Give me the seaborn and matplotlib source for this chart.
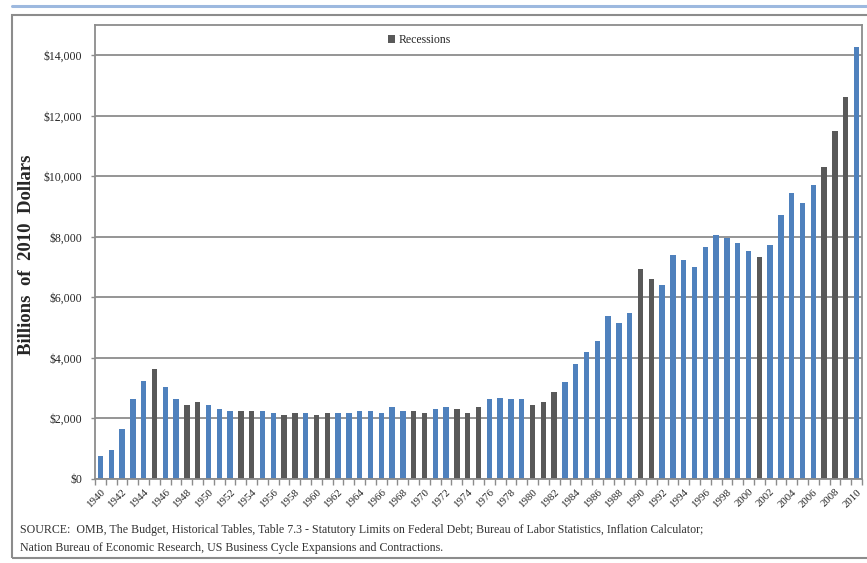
import numpy as np
import pandas as pd
import matplotlib
matplotlib.use("Agg")
import matplotlib.pyplot as plt
import seaborn as sns
from matplotlib.patches import Patch, Rectangle
from matplotlib.lines import Line2D

years = list(range(1940, 2011))
debt_limit = [
    750, 950, 1650, 2650, 3250, 3650, 3050, 2650, 2450, 2530,
    2450, 2320, 2250, 2250, 2250, 2250, 2180, 2120, 2180, 2180,
    2120, 2180, 2180, 2180, 2250, 2250, 2180, 2370, 2250, 2250,
    2180, 2300, 2370, 2300, 2180, 2370, 2630, 2690, 2630, 2630,
    2430, 2560, 2890, 3220, 3800, 4200, 4560, 5370, 5170, 5500,
    6930, 6620, 6420, 7400, 7220, 7010, 7670, 8070, 7960, 7800,
    7540, 7340, 7740, 8730, 9450, 9120, 9720, 10310, 11500, 12620,
    14270,
]
recession_years = [1945, 1948, 1949, 1953, 1954, 1957, 1958, 1960, 1961,
                   1969, 1970, 1973, 1974, 1975, 1980, 1981, 1982,
                   1990, 1991, 2001, 2007, 2008, 2009]
y_ticks = [0, 2000, 4000, 6000, 8000, 10000, 12000, 14000]
y_tick_labels = ["$0", "$2,000", "$4,000", "$6,000", "$8,000", "$10,000", "$12,000", "$14,000"]
legend_label = "Recessions"
y_label = "Billions  of  2010  Dollars"
source_text = ("SOURCE:  OMB, The Budget, Historical Tables, Table 7.3 - Statutory Limits on Federal Debt; "
               "Bureau of Labor Statistics, Inflation Calculator;\n"
               "Nation Bureau of Economic Research, US Business Cycle Expansions and Contractions.")

BLUE = "#4F81BD"
DARK = "#595959"
GRID = "#8C8C8C"

df = pd.DataFrame({
    "year": [str(y) for y in years],
    "value": debt_limit,
    "kind": ["Recession" if y in recession_years else "Normal" for y in years],
})

sns.set_style("white")
plt.rcParams["font.family"] = ["Liberation Serif", "DejaVu Serif"]

fig = plt.figure(figsize=(8.67, 5.63), dpi=100)
ax = fig.add_axes([95/867, 1-479/563, (862-95)/867, (479-25)/563])

sns.barplot(data=df, x="year", y="value", hue="kind",
            palette={"Normal": BLUE, "Recession": DARK},
            dodge=False, width=0.5, legend=False, ax=ax,
            edgecolor="none", saturation=1)

ax.set_xlim(-0.5, len(years) - 0.5)
ax.set_ylim(0, 15000)
ax.set_yticks(y_ticks)
ax.set_yticklabels(y_tick_labels, fontsize=8.5)
ax.yaxis.grid(True, color=GRID, linewidth=1.3)
ax.set_axisbelow(True)
ax.tick_params(axis="y", length=3, width=1, color=GRID, pad=6, direction="out", left=True)

idx = np.arange(len(years))
ax.set_xticks(idx[::2])
ax.set_xticklabels([str(y) for y in years[::2]], rotation=45, ha="right",
                   rotation_mode="anchor", fontsize=7.8)
ax.set_xticks(np.arange(-0.5, len(years), 1), minor=True)
ax.tick_params(axis="x", which="major", length=0, pad=6)
ax.tick_params(axis="x", which="minor", length=4, width=1, color=GRID, direction="out", bottom=True)

for s in ax.spines.values():
    s.set_visible(True)
    s.set_color(GRID)
    s.set_linewidth(1.3)

ax.set_xlabel("")
ax.set_ylabel("")

fig.text(27/867, 1-255/563, y_label, rotation=90, ha="center", va="center",
         fontsize=13.5, fontweight="bold")

fig.legend(handles=[Patch(facecolor=DARK, edgecolor="none")], labels=[legend_label],
           loc="center left", bbox_to_anchor=(388/867, 1-40/563), frameon=False,
           fontsize=8.5, handlelength=0.6, handleheight=0.6, handletextpad=0.3,
           borderpad=0, borderaxespad=0)

fig.text(20/867, 1-539/563, source_text, ha="left", va="center", fontsize=8.6,
         linespacing=1.6, color="#333333")

fig.add_artist(Rectangle((12/867, 1-558/563), 1.0, (558-15)/563,
                         transform=fig.transFigure, fill=False,
                         edgecolor=GRID, linewidth=1.5))
fig.add_artist(Line2D([12/867, 1.0], [1-6/563, 1-6/563], transform=fig.transFigure,
                      color="#9DB9DF", linewidth=2.2))

fig.savefig("out.png", dpi=100, facecolor="white")
